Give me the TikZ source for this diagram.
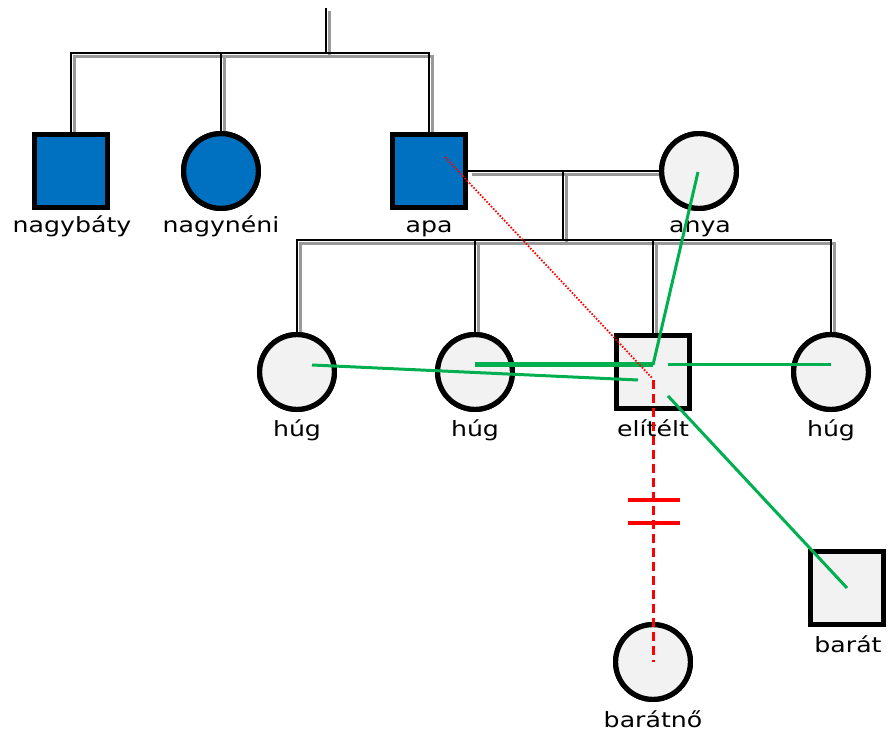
\documentclass[tikz,border=0pt]{standalone}
\usepackage{fontspec}
\setmainfont{DejaVu Sans}[FakeStretch=1.2]
\usetikzlibrary{calc}
\definecolor{pblue}{RGB}{0,112,192}
\definecolor{pgray}{RGB}{242,242,242}
\definecolor{pgreen}{RGB}{0,176,80}
\definecolor{pred}{RGB}{255,0,0}
\newcommand\kinlines[1]{%
  \draw[#1] (g0) -- (g1);
  \draw[#1] (ub.north) |- (g1) -| (apa.north);
  \draw[#1] (an.north) -- (an.north |- g1);
  \draw[#1] (apa.east) -- (anya.west);
  \draw[#1] (m1) -- (m2);
  \draw[#1] (h1.north) |- (m2) -| (h3.north);
  \draw[#1] (h2.north) -- (h2.north |- m2);
  \draw[#1] (el.north) -- (el.north |- m2);
}
\newcommand\persons[1]{%
  \node[male,aff] (ub#1) at (71,171) {};
  \node[female,aff] (an#1) at (221,171) {};
  \node[male,aff] (apa#1) at (429,171) {};
  \node[female,unaff] (anya#1) at (699,171) {};
  \node[female,unaff] (h1#1) at (297,372) {};
  \node[female,unaff] (h2#1) at (475,372) {};
  \node[male,unaff] (el#1) at (653,372) {};
  \node[female,unaff] (h3#1) at (831,372) {};
  \node[male,unaff] (bar#1) at (847,588) {};
  \node[female,unaff] (bn#1) at (653,662) {};
}
\begin{document}
\begin{tikzpicture}[x=1pt,y=-1pt,
  person/.style={draw=black,line width=5.2pt,inner sep=0pt},
  male/.style={person,rectangle,minimum size=72.8pt},
  female/.style={person,circle,minimum size=74.8pt},
  aff/.style={fill=pblue},
  unaff/.style={fill=pgray},
  lbl/.style={anchor=base,inner sep=0pt,font=\fontsize{21}{24}\selectfont},
  kin/.style={draw=black,line width=1.3pt},
  kinshadow/.style={draw=gray!80,line width=3pt},
  close/.style={draw=pgreen,line width=3pt},
  veryclose/.style={draw=pgreen,line width=5pt},
  distant/.style={draw=pred,line width=1.8pt,dash pattern=on 1.6pt off 1.6pt},
  broken/.style={draw=pred,line width=3pt,dash pattern=on 9pt off 5pt},
  cut/.style={draw=pred,line width=3.5pt}]
\useasboundingbox (0,0) rectangle (887,735);
% persons (first pass defines names for the connectors)
\persons{}
% junctions
\coordinate (g0) at (326,8);
\coordinate (g1) at (326,53);
\coordinate (m1) at (563,172);
\coordinate (m2) at (563,240);
% kinship lines with shadow
\begin{scope}[transform canvas={xshift=3.5pt,yshift=-3.5pt}]
\kinlines{kinshadow}
\end{scope}
\kinlines{kin}
% persons again, on top of the lines
\persons{x}
% labels
\node[lbl] (lub) at (72,233) {nagybáty};
\node[lbl] (lan) at (221,233) {nagynéni};
\node[lbl] (lapa) at (429,233) {apa};
\node[lbl] (lanya) at (700,233) {anya};
\node[lbl] (lh1) at (297,437) {húg};
\node[lbl] (lh2) at (475,437) {húg};
\node[lbl] (lel) at (653,437) {elítélt};
\node[lbl] (lh3) at (831,437) {húg};
\node[lbl] (lbar) at (848,652) {barát};
\node[lbl] (lbn) at (653,727) {barátnő};
% emotional relations
\coordinate (gk) at ($(el.center)+(0,-7)$);
\draw[veryclose] ($(h2.center)+(0,-7)$) -- (gk);
\draw[close] (gk) -- ($(anya.center)+(-1,1)$);
\draw[close] ($(h1.center)+(15,-7)$) -- ($(el.center)+(-15,8)$);
\draw[close] ($(el.center)+(15,-7)$) -- ($(h3.center)+(0,-7)$);
\draw[close] ($(el.center)+(15,24)$) -- (bar.center);
\draw[distant] ($(apa.center)+(16,-14)$) -- ($(el.center)+(-1,6)$);
\draw[broken] ($(el.center)+(0,8)$) -- (bn.center);
\coordinate (t1) at (653,500);
\coordinate (t2) at (653,523);
\draw[cut] ([xshift=-25pt]t1) -- ([xshift=27pt]t1);
\draw[cut] ([xshift=-25pt]t2) -- ([xshift=27pt]t2);
\end{tikzpicture}
\end{document}
